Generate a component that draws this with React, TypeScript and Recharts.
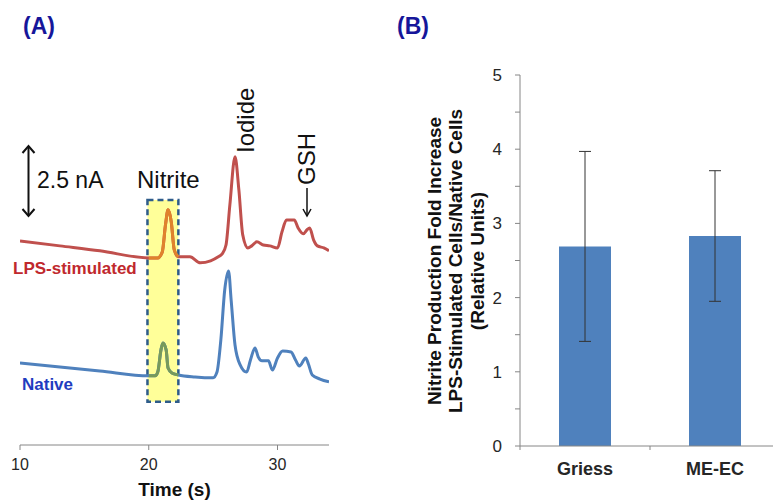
import React from 'react';
import {
  LineChart,
  Line,
  XAxis,
  YAxis,
  ReferenceArea,
  BarChart,
  Bar,
  ErrorBar,
} from 'recharts';

// Panel A: electropherograms (time in s, current in nA above the time axis)
const lpsTime = [10.0, 13.1, 16.2, 20.0, 20.7, 21.05, 21.3, 21.5, 21.75, 21.98, 22.3, 23.2, 24.0, 24.8, 25.4, 25.7, 26.0, 26.3, 26.7, 27.0, 27.3, 27.7, 28.0, 28.4, 28.9, 29.4, 30.0, 30.35, 30.7, 31.3, 31.6, 32.0, 32.3, 32.5, 32.8, 33.1, 33.6, 34.0];
const lpsCurrent = [7.08, 6.91, 6.74, 6.49, 6.49, 6.7, 7.64, 8.16, 7.74, 6.77, 6.53, 6.53, 6.32, 6.39, 6.53, 6.63, 6.94, 8.33, 10.0, 8.85, 7.29, 6.84, 6.91, 7.05, 6.94, 6.91, 6.84, 7.4, 7.81, 7.81, 7.53, 7.33, 7.47, 7.53, 7.12, 6.91, 6.84, 6.74];

const nativeTime = [10.0, 13.1, 16.2, 20.0, 20.5, 20.7, 20.95, 21.1, 21.35, 21.5, 21.8, 22.3, 23.6, 25.0, 25.3, 25.6, 25.9, 26.2, 26.4, 26.7, 27.1, 27.6, 27.9, 28.25, 28.5, 28.8, 29.3, 29.6, 30.0, 30.4, 31.05, 31.4, 31.7, 32.2, 32.4, 32.7, 33.3, 34.0];
const nativeCurrent = [2.85, 2.71, 2.57, 2.4, 2.4, 2.53, 3.3, 3.54, 3.3, 2.67, 2.5, 2.43, 2.36, 2.33, 2.53, 3.65, 5.38, 6.04, 5.03, 3.47, 2.78, 2.53, 2.95, 3.37, 3.06, 2.92, 2.92, 2.6, 3.02, 3.26, 3.23, 2.95, 2.74, 3.02, 2.81, 2.43, 2.29, 2.19];

const timeTicks = [10, 20, 30];
const nitriteWindow = [19.9, 22.3];

// Panel B: fold increase
const methods = ['Griess', 'ME-EC'];
const foldIncrease = [2.69, 2.83];
const foldError = [1.28, 0.88];
const foldTicks = [0, 0.5, 1, 1.5, 2, 2.5, 3, 3.5, 4, 4.5, 5];

const lpsData = lpsTime.map((t, i) => ({ t, v: lpsCurrent[i] }));
const nativeData = nativeTime.map((t, i) => ({ t, v: nativeCurrent[i] }));
const inWindow = (p: { t: number }) => p.t >= nitriteWindow[0] && p.t <= nitriteWindow[1];
const lpsWindow = lpsData.filter(inWindow);
const nativeWindow = nativeData.filter(inWindow);
const barData = methods.map((m, i) => ({ method: m, value: foldIncrease[i], err: foldError[i] }));

const FONT = '"Liberation Sans", Arial, sans-serif';
const AXIS = '#868686';
const RED = '#c0504d';
const BLUE = '#4f81bd';
const BAND = 130;

const CategoryTick = (props: any) => {
  const { x, y, payload } = props;
  return (
    <g>
      <line x1={x - BAND / 2} y1={y} x2={x - BAND / 2} y2={y + 4} stroke={AXIS} />
      <text x={x} y={y + 29} textAnchor="middle" fontWeight="bold" fontSize={18} fill="#262626">
        {payload.value}
      </text>
    </g>
  );
};

export default function App() {
  return (
    <div
      style={{
        position: 'fixed',
        left: 0,
        top: 0,
        width: 773,
        height: 501,
        overflow: 'hidden',
        background: '#fff',
        fontFamily: FONT,
      }}
    >
      <div style={{ position: 'absolute', left: 0, top: 0 }}>
        <LineChart width={340} height={501} margin={{ top: 128, right: 11, left: 20, bottom: 0 }}>
          <XAxis
            dataKey="t"
            type="number"
            domain={[10, 34]}
            ticks={timeTicks}
            allowDataOverflow
            height={56}
            stroke={AXIS}
            tickSize={5}
            tickMargin={9}
            tick={{ fontSize: 16, fill: '#262626' }}
            label={{ value: 'Time (s)', position: 'insideBottom', offset: 5, fontSize: 19, fontWeight: 'bold', fill: '#111' }}
          />
          <YAxis hide type="number" domain={[0, 11]} />
          <ReferenceArea
            x1={nitriteWindow[0]}
            x2={nitriteWindow[1]}
            y1={1.5}
            y2={8.5}
            fill="#ffff99"
            fillOpacity={1}
            stroke="#2e5c8a"
            strokeWidth={2.5}
            strokeDasharray="6 4"
          />
          <Line data={lpsData} dataKey="v" type="monotone" stroke={RED} strokeWidth={3} dot={false} isAnimationActive={false} />
          <Line data={nativeData} dataKey="v" type="monotone" stroke={BLUE} strokeWidth={3} dot={false} isAnimationActive={false} />
          <Line data={lpsWindow} dataKey="v" type="monotone" stroke="#e0832b" strokeWidth={3} dot={false} isAnimationActive={false} />
          <Line data={nativeWindow} dataKey="v" type="monotone" stroke="#779a5a" strokeWidth={3} dot={false} isAnimationActive={false} />
        </LineChart>
      </div>

      <div style={{ position: 'absolute', left: 380, top: 0 }}>
        <BarChart width={400} height={501} data={barData} margin={{ top: 75, right: 0, left: 0, bottom: 0 }}>
          <XAxis
            dataKey="method"
            height={55}
            stroke={AXIS}
            tickLine={false}
            tickSize={0}
            tickMargin={0}
            tick={<CategoryTick />}
            interval={0}
          />
          <YAxis
            type="number"
            domain={[0, 5]}
            ticks={foldTicks}
            width={140}
            stroke={AXIS}
            tickSize={5}
            tickMargin={13}
            tick={{ fontSize: 17, fill: '#262626' }}
            tickFormatter={(v: number) => (Number.isInteger(v) ? String(v) : '')}
          />
          <Bar dataKey="value" fill={BLUE} barSize={52} isAnimationActive={false}>
            <ErrorBar dataKey="err" width={6} stroke="#333" strokeWidth={1} />
          </Bar>
        </BarChart>
      </div>

      <svg width={773} height={501} style={{ position: 'absolute', left: 0, top: 0, pointerEvents: 'none' }}>
        <text x={23} y={34} fontSize={23} fontWeight="bold" fill="#16169a">(A)</text>
        <text x={397} y={34} fontSize={23} fontWeight="bold" fill="#16169a">(B)</text>

        <line x1={28.5} y1={146} x2={28.5} y2={216} stroke="#111" strokeWidth={2} />
        <polyline points="22.5,153 28.5,146 34.5,153" fill="none" stroke="#111" strokeWidth={2} />
        <polyline points="22.5,209 28.5,216 34.5,209" fill="none" stroke="#111" strokeWidth={2} />
        <text x={37} y={188} fontSize={23} fill="#111">2.5 nA</text>

        <text x={137} y={188} fontSize={24} fill="#111">Nitrite</text>
        <text transform="translate(254,153) rotate(-90)" fontSize={24} fill="#111">Iodide</text>
        <text transform="translate(315,185) rotate(-90)" fontSize={24} fill="#111">GSH</text>
        <line x1={307} y1={188} x2={307} y2={216} stroke="#111" strokeWidth={1.5} />
        <polyline points="303,209 307,216 311,209" fill="none" stroke="#111" strokeWidth={1.5} />

        <text x={13} y={274} fontSize={17} fontWeight="bold" fill="#c0282d">LPS-stimulated</text>
        <text x={22} y={390} fontSize={17} fontWeight="bold" fill="#1f3cbf">Native</text>

        <g fontSize={19} fontWeight="bold" fill="#111" textAnchor="middle">
          <text transform="translate(441,261) rotate(-90)">Nitrite Production Fold Increase</text>
          <text transform="translate(462,261) rotate(-90)">LPS-Stimulated Cells/Native Cells</text>
          <text transform="translate(484,261) rotate(-90)">(Relative Units)</text>
        </g>
      </svg>
    </div>
  );
}
